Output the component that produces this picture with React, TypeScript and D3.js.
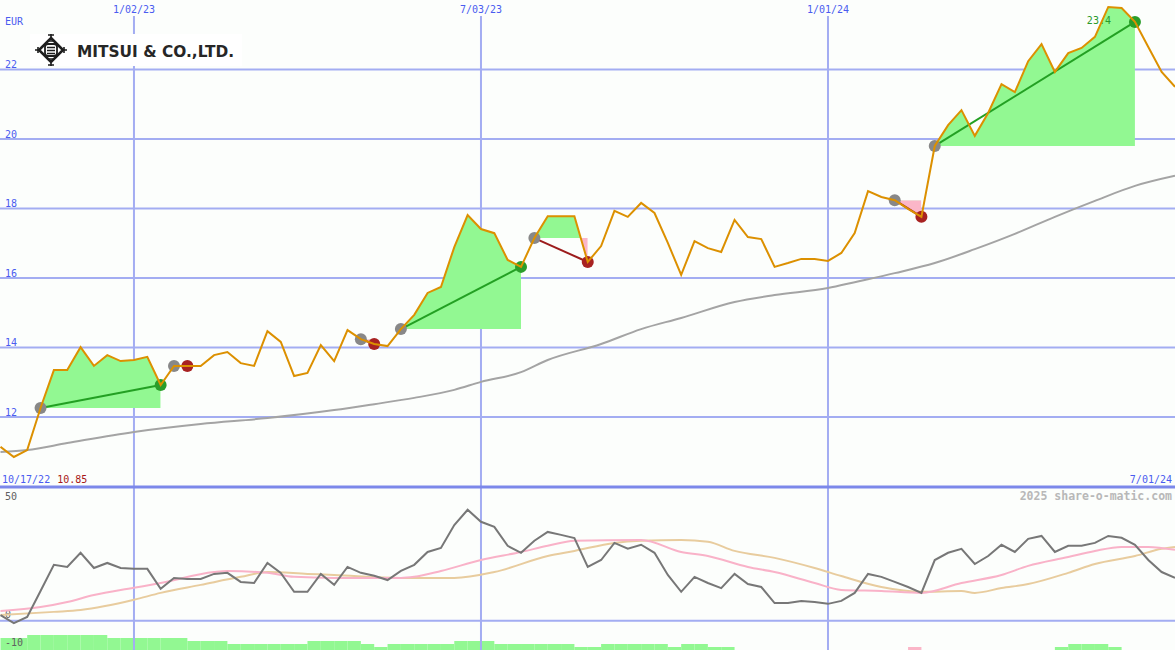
import React from "react";
import * as d3 from "d3";

// ---------- DATA ----------
const startDate = new Date(2022, 9, 24);
const endDate = new Date(2024, 6, 1);

// weekly closing prices (EUR)
const prices = [
  11.14, 10.85, 11.05, 12.26, 13.35, 13.35, 14.01, 13.47, 13.78, 13.61,
  13.64, 13.73, 12.92, 13.47, 13.47, 13.47, 13.78, 13.87, 13.55, 13.47,
  14.47, 14.16, 13.18, 13.27, 14.07, 13.61, 14.5, 14.24, 14.1, 14.04,
  14.53, 14.94, 15.57, 15.74, 16.89, 17.81, 17.41, 17.29, 16.52, 16.32,
  17.15, 17.78, 17.78, 17.78, 16.46, 16.92, 17.93, 17.76, 18.16, 17.87,
  17.01, 16.09, 17.06, 16.86, 16.75, 17.67, 17.18, 17.12, 16.32, 16.43,
  16.55, 16.55, 16.49, 16.72, 17.29, 18.5, 18.33, 18.24, 17.99, 17.76,
  19.8, 20.4, 20.83, 20.09, 20.75, 21.58, 21.35, 22.24, 22.73, 21.93,
  22.47, 22.62, 22.94, 23.8, 23.77, 23.37, 22.65, 21.93, 21.5,
];

// long moving average (sampled week index / value)
const smaWeeks = [0, 2, 5, 10, 15, 20, 25, 28, 31, 34, 36, 39, 41, 45, 48, 51, 55, 58, 62, 64, 67, 70, 73, 76, 79, 82, 85, 88];
const smaValues = [10.99, 11.05, 11.25, 11.57, 11.8, 11.97, 12.2, 12.37, 12.55, 12.78, 13.01, 13.29, 13.64, 14.1, 14.53, 14.85, 15.31, 15.51, 15.71, 15.88, 16.14, 16.43, 16.83, 17.27, 17.76, 18.22, 18.65, 18.94];

// trades: entry week, exit week
const tradeStart = [3, 13, 27, 30, 40, 67, 70];
const tradeEnd = [12, 14, 28, 39, 44, 69, 85];

// oscillator (bottom panel)
const oscMain = [
  2.1, -0.9, 1.4, 11.1, 20.9, 20.1, 25.4, 19.7, 21.6, 19.7,
  19.4, 19.4, 11.9, 16.0, 15.6, 15.6, 17.5, 17.9, 14.5, 14.1,
  21.6, 17.9, 10.8, 10.8, 17.5, 13.4, 20.1, 17.9, 16.8, 15.2,
  18.6, 20.9, 25.7, 27.2, 35.8, 41.5, 37.0, 35.1, 28.0, 25.4,
  29.9, 33.2, 32.1, 30.9, 20.1, 22.7, 29.1, 26.9, 28.4, 25.4,
  17.1, 10.8, 16.4, 14.1, 12.2, 17.5, 13.7, 12.6, 6.6, 6.6,
  7.4, 7.0, 6.3, 7.4, 10.4, 17.5, 16.4, 14.5, 12.6, 10.4,
  22.7, 25.4, 26.9, 21.2, 24.2, 28.4, 25.7, 30.6, 31.7, 25.7,
  28.0, 28.0, 29.1, 31.7, 31.0, 28.4, 22.7, 18.2, 16.0,
];
const oscPinkWeeks = [0, 3, 5, 7, 10, 12, 16, 17, 20, 22, 25, 30, 31, 33, 36, 39, 41, 43, 48, 51, 53, 56, 58, 61, 63, 66, 69, 72, 75, 77, 80, 82, 84, 86, 88];
const oscPinkValues = [3.6, 5.1, 7.0, 9.6, 12.3, 14.1, 18.2, 18.6, 17.9, 16.4, 16.0, 16.0, 16.4, 18.6, 22.7, 25.7, 28.0, 29.9, 30.2, 25.7, 24.2, 20.1, 18.2, 14.1, 11.5, 11.1, 10.4, 14.1, 17.1, 20.5, 23.8, 26.1, 27.6, 27.6, 26.5];
const oscTanWeeks = [0, 4, 6, 10, 12, 15, 18, 20, 23, 25, 30, 34, 37, 41, 43, 46, 48, 51, 53, 55, 58, 61, 63, 66, 69, 72, 73, 75, 77, 80, 82, 85, 87, 88];
const oscTanValues = [2.1, 3.3, 4.0, 7.8, 10.4, 13.4, 16.4, 18.2, 17.5, 17.1, 16.0, 16.0, 18.2, 24.2, 26.1, 29.1, 29.9, 30.2, 29.5, 26.1, 23.5, 19.7, 16.7, 12.6, 10.8, 11.1, 10.4, 12.2, 13.7, 17.9, 21.2, 24.2, 26.9, 27.6];

// weekly histogram strip at the bottom
const histValues = [
  4, 4, 5, 5, 5, 5, 5, 5, 4, 4, 4, 4, 4, 4, 3, 3, 3, 2, 2, 2, 2, 2, 2,
  3, 3, 3, 3, 2, 1, 2, 2, 2, 2, 2, 3, 3, 3, 2, 2, 2, 2, 2, 2, 1, 1,
  2, 2, 2, 2, 2, 1, 2, 2, 1, 1,
  0, 0, 0, 0, 0, 0, 0, 0, 0, 0, 0, 0, 0, -1,
  0, 0, 0, 0, 0, 0, 0, 0, 0, 0, 1, 2, 2, 2, 1, 0, 0, 0, 0, 0,
];

const priceTicks = [12, 14, 16, 18, 20, 22];
const dateTicks = [new Date(2023, 0, 2), new Date(2023, 6, 3), new Date(2024, 0, 1)];
const oscTicks = [50, 0, -10];
const lowLabelDate = "10/17/22";
const lowLabelValue = "10.85";
const endLabelDate = "7/01/24";
const copyright = "2025 share-o-matic.com";
const companyName = "MITSUI & CO.,LTD.";

// ---------- CHART ----------
const W = 1175;
const H = 650;
const BG = "#fcfefc";
const GRID = "#a3adf2";
const BLUE = "#4a5cf0";
const MONO = "'DejaVu Sans Mono', monospace";

export default function App() {
  const dates = prices.map((_, i) => d3.timeDay.offset(startDate, 7 * i));
  const x = d3.scaleTime().domain([startDate, endDate]).range([0.5, 1175]);
  const xi = (i: number) => x(d3.timeDay.offset(startDate, 7 * i));
  const y = d3.scaleLinear().domain([12, 22]).range([417, 69.5]);
  const yo = d3.scaleLinear().domain([0, 50]).range([620.7, 487]);
  const yh = d3.scaleLinear().domain([0, 5]).range([650, 635]);
  const fmt = d3.timeFormat("%-m/%d/%y");

  const priceLine = d3
    .line<number>()
    .x((_, i) => x(dates[i]))
    .y((d) => y(d))(prices) as string;

  const smaLine = d3
    .line<number>()
    .x((_, k) => xi(smaWeeks[k]))
    .y((d) => y(d))
    .curve(d3.curveMonotoneX)(smaValues) as string;

  const oscLine = d3
    .line<number>()
    .x((_, i) => x(dates[i]))
    .y((d) => yo(d))(oscMain) as string;
  const pinkLine = d3
    .line<number>()
    .x((_, k) => xi(oscPinkWeeks[k]))
    .y((d) => yo(d))
    .curve(d3.curveMonotoneX)(oscPinkValues) as string;
  const tanLine = d3
    .line<number>()
    .x((_, k) => xi(oscTanWeeks[k]))
    .y((d) => yo(d))
    .curve(d3.curveMonotoneX)(oscTanValues) as string;

  const last = tradeStart.length - 1;
  const oscLabelY = (t: number) => (t === 50 ? yo(t) + 13 : t === 0 ? yo(t) - 3 : yo(t) - 1);

  return (
    <svg
      width={W}
      height={H}
      style={{ position: "absolute", left: 0, top: 0, background: BG }}
    >
      <rect x={0} y={0} width={W} height={H} fill={BG} />
      <defs>
        {tradeStart.map((s, k) => {
          const x0 = xi(s);
          const x1 = xi(tradeEnd[k]);
          const ye = y(prices[s]);
          return (
            <React.Fragment key={k}>
              <clipPath id={`up${k}`}>
                <rect x={x0} y={0} width={x1 - x0} height={ye} />
              </clipPath>
              <clipPath id={`dn${k}`}>
                <rect x={x0} y={ye} width={x1 - x0} height={487 - ye} />
              </clipPath>
            </React.Fragment>
          );
        })}
      </defs>

      {/* histogram strip */}
      {histValues.map((v, i) =>
        v === 0 ? null : (
          <rect
            key={i}
            x={xi(i)}
            y={yh(Math.abs(v))}
            width={xi(i + 1) - xi(i)}
            height={650 - yh(Math.abs(v))}
            fill={v > 0 ? "#92f892" : "#fbb6c8"}
          />
        )
      )}

      {/* horizontal grid */}
      {priceTicks.map((t) => (
        <line key={t} x1={0} x2={W} y1={y(t)} y2={y(t)} stroke={GRID} strokeWidth={2} />
      ))}
      <line x1={0} x2={W} y1={yo(0)} y2={yo(0)} stroke={GRID} strokeWidth={2} />

      {/* vertical grid */}
      {dateTicks.map((d, k) => (
        <line key={k} x1={x(d)} x2={x(d)} y1={16} y2={H} stroke={GRID} strokeWidth={2} />
      ))}
      <line x1={0} x2={W} y1={yo(50)} y2={yo(50)} stroke="#7c88ea" strokeWidth={3} />

      {/* logo */}
      <rect x={30} y={34} width={212} height={32} fill="#ffffff" />
      <g transform="translate(51,50)" stroke="#1e1e1e" fill="none">
        <path d="M0,-12 L12,0 L0,12 L-12,0 Z" strokeWidth={2.6} />
        <path d="M-4,-9 L4,-9 M0,-13 L0,-16 M-3,-15 L3,-15" strokeWidth={1.6} />
        <path d="M-4,9 L4,9 M0,13 L0,16 M-3,15 L3,15" strokeWidth={1.6} />
        <path d="M-13,-3 L-13,3 M-13,0 L-16,0" strokeWidth={1.6} />
        <path d="M13,-3 L13,3 M13,0 L16,0" strokeWidth={1.6} />
        <rect x={-6} y={-6} width={12} height={12} rx={3} strokeWidth={1.8} />
        <path d="M-4,-2.5 L4,-2.5 M-4,0.5 L4,0.5 M-4,3.5 L4,3.5" strokeWidth={1.4} />
      </g>
      <text
        x={77}
        y={57}
        fontFamily="'DejaVu Sans', sans-serif"
        fontWeight="bold"
        fontSize={16}
        fill="#262626"
        textLength={157}
        lengthAdjust="spacingAndGlyphs"
      >
        {companyName}
      </text>

      {/* axis labels */}
      <text x={5} y={25} fontFamily={MONO} fontSize={10} fill={BLUE}>EUR</text>
      {priceTicks.map((t) => (
        <text key={t} x={5} y={y(t) - 1.5} fontFamily={MONO} fontSize={10} fill={BLUE}>
          {t}
        </text>
      ))}
      {dateTicks.map((d, k) => (
        <text key={k} x={x(d)} y={12.5} textAnchor="middle" fontFamily={MONO} fontSize={10} fill={BLUE}>
          {fmt(d)}
        </text>
      ))}
      <text x={2} y={483} fontFamily={MONO} fontSize={10} fill={BLUE}>
        {lowLabelDate}
        <tspan dx={7} fill="#a81818">{lowLabelValue}</tspan>
      </text>
      <text x={1172} y={483} textAnchor="end" fontFamily={MONO} fontSize={10} fill={BLUE}>
        {endLabelDate}
      </text>
      <text
        x={1172}
        y={500}
        textAnchor="end"
        fontFamily={MONO}
        fontWeight="bold"
        fontSize={11.5}
        fill="#b8b8b8"
      >
        {copyright}
      </text>
      {oscTicks.map((t) => (
        <text key={t} x={5} y={oscLabelY(t)} fontFamily={MONO} fontSize={10} fill="#606060">
          {t}
        </text>
      ))}

      {/* trade fills */}
      {tradeStart.map((s, k) => {
        const e = tradeEnd[k];
        const seg = prices.slice(s, e + 1);
        const ye = y(prices[s]);
        const area = d3
          .area<number>()
          .x((_, j) => xi(s + j))
          .y0(ye)
          .y1((d) => y(d))(seg) as string;
        return (
          <g key={k}>
            <path d={area} fill="#92f892" clipPath={`url(#up${k})`} />
            <path d={area} fill="#fbb6c8" clipPath={`url(#dn${k})`} />
          </g>
        );
      })}

      {/* exit value label of last trade */}
      <text
        x={xi(tradeEnd[last]) - 24}
        y={24}
        textAnchor="end"
        fontFamily={MONO}
        fontSize={10}
        fill="#2a9a2a"
      >
        {prices[tradeEnd[last]].toFixed(1)}
      </text>

      {/* moving average */}
      <path d={smaLine} fill="none" stroke="#a4a4a4" strokeWidth={2} />

      {/* trade connectors and markers */}
      {tradeStart.map((s, k) => {
        const e = tradeEnd[k];
        const win = prices[e] > prices[s];
        const col = win ? "#23a023" : "#9c1c1c";
        return (
          <g key={k}>
            <line x1={xi(s)} y1={y(prices[s])} x2={xi(e)} y2={y(prices[e])} stroke={col} strokeWidth={2} />
            <circle cx={xi(s)} cy={y(prices[s])} r={6} fill="#888888" />
            <circle cx={xi(e)} cy={y(prices[e])} r={6} fill={win ? "#2a9d2a" : "#a82222"} />
          </g>
        );
      })}

      {/* price */}
      <path d={priceLine} fill="none" stroke="#dc9000" strokeWidth={2} />

      {/* oscillator */}
      <path d={tanLine} fill="none" stroke="#e8cc9e" strokeWidth={2} />
      <path d={pinkLine} fill="none" stroke="#f9b2c8" strokeWidth={2} />
      <path d={oscLine} fill="none" stroke="#777777" strokeWidth={2} />
    </svg>
  );
}
